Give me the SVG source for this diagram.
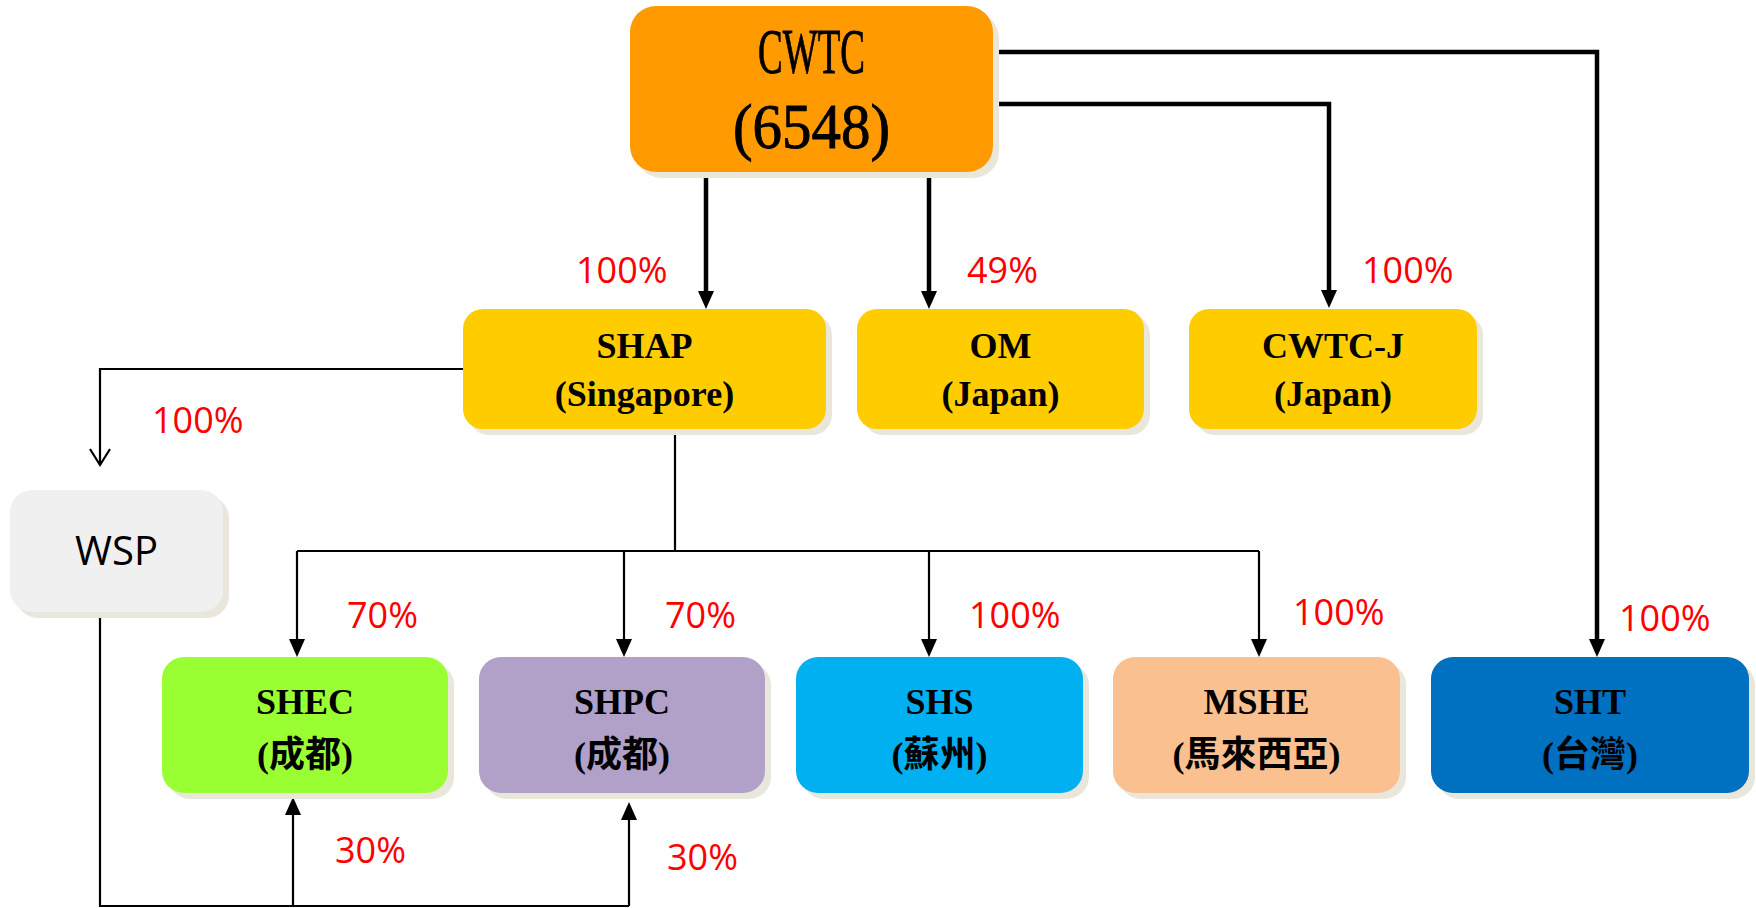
<svg xmlns="http://www.w3.org/2000/svg" width="1756" height="908" viewBox="0 0 1756 908">
<style>
  .shadow { fill: #e9e7dc; }
  .t { font-family: "Liberation Serif", "Noto Sans CJK TC", serif; font-weight: bold; font-size: 36px; text-anchor: middle; fill: #000; }
  .big { font-family: "Liberation Serif", "Noto Sans CJK TC", serif; font-size: 64px; text-anchor: middle; fill: #000; stroke: #000; stroke-width: 0.9; }
  .pct { font-family: "Open Sans", "Liberation Sans", sans-serif; font-size: 36px; fill: #ff0000; }
  .wsp { font-family: "Open Sans", "Liberation Sans", sans-serif; font-size: 40px; text-anchor: middle; fill: #000; }
  .thick { fill: none; stroke: #000; stroke-width: 4.5; }
  .thin { fill: none; stroke: #000; stroke-width: 2.2; }
</style>
<defs>
  <marker id="ahThick" markerUnits="userSpaceOnUse" markerWidth="20" markerHeight="18" refX="12" refY="8" orient="auto">
    <path d="M0,0 L18,8 L0,16 z" fill="#000"/>
  </marker>
  <marker id="ahThin" markerUnits="userSpaceOnUse" markerWidth="20" markerHeight="18" refX="12" refY="8" orient="auto">
    <path d="M0,0 L18,8 L0,16 z" fill="#000"/>
  </marker>
  <marker id="ahOpen" markerUnits="userSpaceOnUse" markerWidth="22" markerHeight="24" refX="17" refY="11" orient="auto">
    <path d="M1,1 L17,11 L1,21" fill="none" stroke="#000" stroke-width="2.2"/>
  </marker>
</defs>

<g id="connectors">
  <path class="thick" d="M706,172 V303" marker-end="url(#ahThick)"/>
  <path class="thick" d="M929,172 V303" marker-end="url(#ahThick)"/>
  <path class="thick" d="M993,104 H1329 V302" marker-end="url(#ahThick)"/>
  <path class="thick" d="M993,52 H1597 V651" marker-end="url(#ahThick)"/>
  <path class="thin" d="M463,369 H100 V465" marker-end="url(#ahOpen)"/>
  <path class="thin" d="M675,429 V551"/>
  <path class="thin" d="M297,551 H1259"/>
  <path class="thin" d="M297,551 V651" marker-end="url(#ahThin)"/>
  <path class="thin" d="M624,551 V651" marker-end="url(#ahThin)"/>
  <path class="thin" d="M929,551 V651" marker-end="url(#ahThin)"/>
  <path class="thin" d="M1259,551 V651" marker-end="url(#ahThin)"/>
  <path class="thin" d="M100,612 V906 H629"/>
  <path class="thin" d="M293,906 V803" marker-end="url(#ahThin)"/>
  <path class="thin" d="M629,906 V808" marker-end="url(#ahThin)"/>
</g>

<g id="labels">
  <text class="pct" x="576" y="283">100%</text>
  <text class="pct" x="967" y="283">49%</text>
  <text class="pct" x="1362" y="283">100%</text>
  <text class="pct" x="152" y="433">100%</text>
  <text class="pct" x="347" y="628">70%</text>
  <text class="pct" x="665" y="628">70%</text>
  <text class="pct" x="969" y="628">100%</text>
  <text class="pct" x="1293" y="625">100%</text>
  <text class="pct" x="1619" y="631">100%</text>
  <text class="pct" x="335" y="863">30%</text>
  <text class="pct" x="667" y="870">30%</text>
</g>

<g id="node-cwtc">
  <rect class="shadow" x="636" y="12" width="363" height="166" rx="26"/>
  <rect x="630" y="6" width="363" height="166" rx="26" fill="#ff9a00"/>
  <text class="big" x="811.5" y="73" textLength="107" lengthAdjust="spacingAndGlyphs">CWTC</text>
  <text class="big" x="811.5" y="148" textLength="157" lengthAdjust="spacingAndGlyphs">(6548)</text>
</g>

<g id="node-shap">
  <rect class="shadow" x="469" y="315" width="363" height="120" rx="20"/>
  <rect x="463" y="309" width="363" height="120" rx="20" fill="#ffcc00"/>
  <text class="t" x="644.5" y="358">SHAP</text>
  <text class="t" x="644.5" y="406">(Singapore)</text>
</g>

<g id="node-om">
  <rect class="shadow" x="863" y="315" width="287" height="120" rx="20"/>
  <rect x="857" y="309" width="287" height="120" rx="20" fill="#ffcc00"/>
  <text class="t" x="1000.5" y="358">OM</text>
  <text class="t" x="1000.5" y="406">(Japan)</text>
</g>

<g id="node-cwtcj">
  <rect class="shadow" x="1195" y="315" width="288" height="120" rx="20"/>
  <rect x="1189" y="309" width="288" height="120" rx="20" fill="#ffcc00"/>
  <text class="t" x="1333" y="358">CWTC-J</text>
  <text class="t" x="1333" y="406">(Japan)</text>
</g>

<g id="node-wsp">
  <rect class="shadow" x="16" y="496" width="213" height="122" rx="22"/>
  <rect x="10" y="490" width="213" height="122" rx="22" fill="#f0f0f0"/>
  <text class="wsp" x="116.5" y="565">WSP</text>
</g>

<g id="node-shec">
  <rect class="shadow" x="168" y="663" width="286" height="136" rx="22"/>
  <rect x="162" y="657" width="286" height="136" rx="22" fill="#99ff33"/>
  <text class="t" x="305" y="714">SHEC</text>
  <text class="t" x="305" y="767">(成都)</text>
</g>

<g id="node-shpc">
  <rect class="shadow" x="485" y="663" width="286" height="136" rx="22"/>
  <rect x="479" y="657" width="286" height="136" rx="22" fill="#b1a0c7"/>
  <text class="t" x="622" y="714">SHPC</text>
  <text class="t" x="622" y="767">(成都)</text>
</g>

<g id="node-shs">
  <rect class="shadow" x="802" y="663" width="287" height="136" rx="22"/>
  <rect x="796" y="657" width="287" height="136" rx="22" fill="#00b0f0"/>
  <text class="t" x="939.5" y="714">SHS</text>
  <text class="t" x="939.5" y="767">(蘇州)</text>
</g>

<g id="node-mshe">
  <rect class="shadow" x="1119" y="663" width="287" height="136" rx="22"/>
  <rect x="1113" y="657" width="287" height="136" rx="22" fill="#fac090"/>
  <text class="t" x="1256.5" y="714">MSHE</text>
  <text class="t" x="1256.5" y="767">(馬來西亞)</text>
</g>

<g id="node-sht">
  <rect class="shadow" x="1437" y="663" width="318" height="136" rx="22"/>
  <rect x="1431" y="657" width="318" height="136" rx="22" fill="#0070c0"/>
  <text class="t" x="1590" y="714">SHT</text>
  <text class="t" x="1590" y="767">(台灣)</text>
</g>
</svg>
